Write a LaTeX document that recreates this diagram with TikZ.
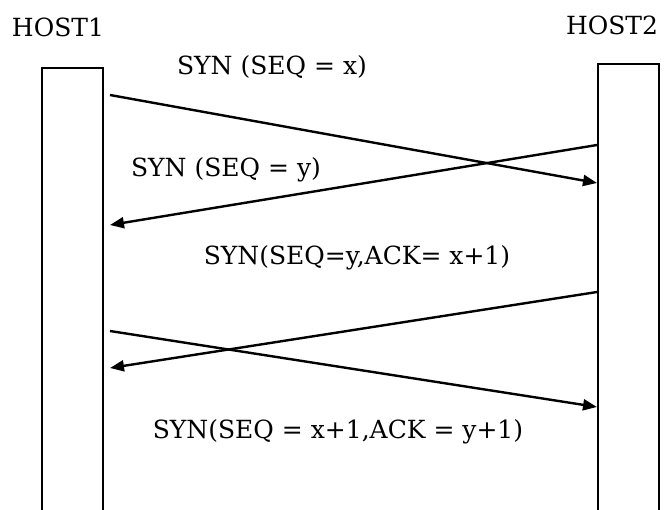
\documentclass[tikz,border=0pt]{standalone}
\usepackage{fontspec}
\setmainfont{DejaVu Serif}
\usetikzlibrary{arrows.meta}
\tikzset{
  lifeline/.style={draw,line width=2pt,minimum width=61pt,minimum height=480pt,anchor=north west,inner sep=0pt},
  msg/.style={line width=2.4pt,-{Triangle[length=14pt,width=11pt]}},
  lbl/.style={font=\fontsize{25}{25}\selectfont,inner sep=0pt},
}
\begin{document}
\begin{tikzpicture}[x=1pt,y=-1pt]
  \useasboundingbox (0,0) rectangle (664,510);
  \clip (0,0) rectangle (664,510);
  % hosts
  \node[lbl] (host1) at (58,27) {HOST1};
  \node[lbl] (host2) at (612,25) {HOST2};
  \node[lifeline] (bar1) at (41,67) {};
  \node[lifeline] (bar2) at (597,63) {};
  % message ends
  \coordinate (synx1) at (110,95);  \coordinate (synx2) at (597,183);
  \coordinate (syny1) at (597,145); \coordinate (syny2) at (110,225);
  \coordinate (ack1) at (597,292);  \coordinate (ack2) at (110,368);
  \coordinate (fin1) at (110,331);  \coordinate (fin2) at (597,407);
  \draw[msg] (synx1) -- (synx2);
  \draw[msg] (syny1) -- (syny2);
  \draw[msg] (ack1) -- (ack2);
  \draw[msg] (fin1) -- (fin2);
  % labels
  \node[lbl] (lsynx) at (272,67) {SYN (SEQ = x)};
  \node[lbl] (lsyny) at (226,170) {SYN (SEQ = y)};
  \node[lbl] (lack) at (357,258) {SYN(SEQ=y,ACK= x+1)};
  \node[lbl] (lfin) at (338,432) {SYN(SEQ = x+1,ACK = y+1)};
\end{tikzpicture}
\end{document}
